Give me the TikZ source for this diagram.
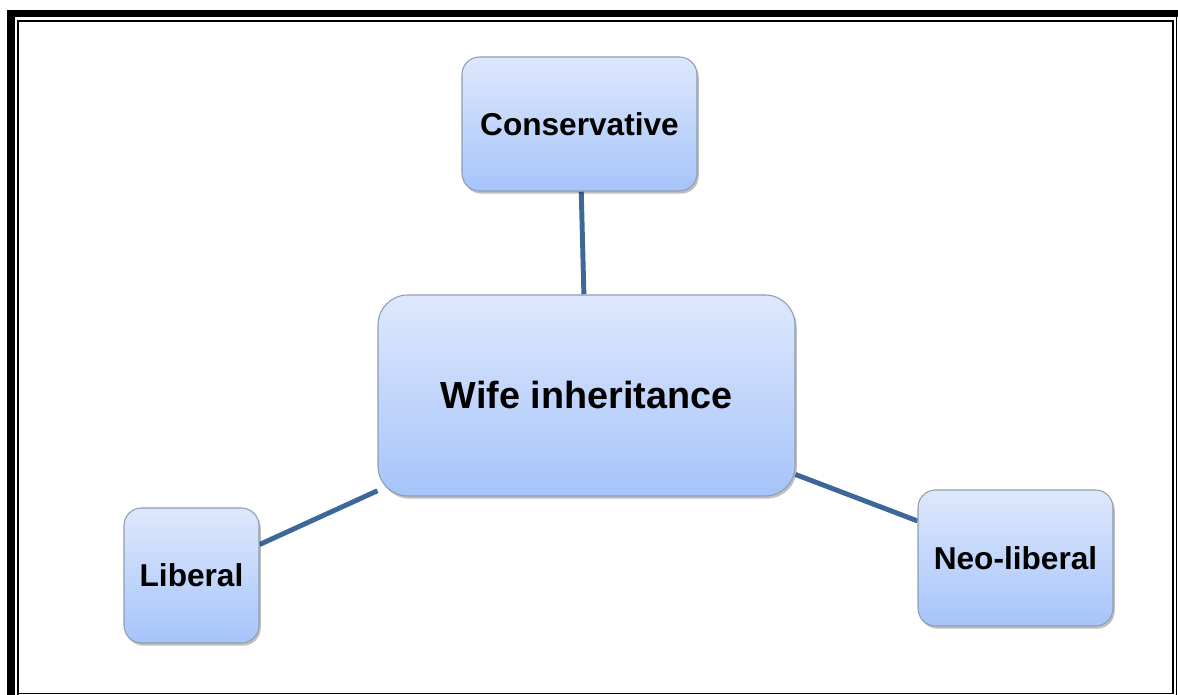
\documentclass[tikz,border=0pt]{standalone}
\usepackage{fontspec}
\setmainfont{Liberation Sans}
\usepackage{tikz}
\usetikzlibrary{shadows,backgrounds}
\definecolor{boxtop}{HTML}{DEE8FC}
\definecolor{boxbot}{HTML}{A6C4FA}
\definecolor{boxline}{HTML}{8E9DB3}
\definecolor{linkcol}{HTML}{3D6699}
\newcommand{\smalltxt}{\fontsize{18}{21}\selectfont\bfseries}
\newcommand{\bigtxt}{\fontsize{21.5}{25}\selectfont\bfseries}
\newcommand{\linkw}{2.8pt}

\begin{document}
\begin{tikzpicture}[x=0.02cm,y=-0.02cm]
                %\draw[help lines] (0,0) grid[step=50] (1178,695);
                \useasboundingbox (0,0) rectangle (1178,695);
                \tikzset{box/.style = {draw=boxline, line width=0.6pt, top color=boxtop, bottom color=boxbot,
                                rounded corners=10pt, inner sep=0pt,
                                drop shadow={shadow xshift=1pt, shadow yshift=-1.5pt, opacity=0.25, fill=black}},
                        link/.style = {draw=linkcol, line width=\linkw}}
                % frame
                \fill (7,10) rectangle (15,695);
                \fill (7,10) rectangle (1178,17);
                \draw[line width=1.1pt] (18,695) -- (18,21) -- (1173,21) -- (1173,693.5) -- (18,693.5);
                \draw[line width=1.1pt] (1176.5,17) -- (1176.5,695);
                % boxes
                \node[box, minimum width=235*0.02cm, minimum height=134*0.02cm] (cons) at (579.5,124) {\smalltxt Conservative};
                \node[box, rounded corners=17pt, minimum width=417*0.02cm, minimum height=201*0.02cm] (wife) at (586.5,395.5) {\bigtxt Wife inheritance};
                \node[box, minimum width=135*0.02cm, minimum height=135*0.02cm] (lib) at (191.5,575.5) {\smalltxt Liberal};
                \node[box, minimum width=195*0.02cm, minimum height=136*0.02cm] (neo) at (1015.5,558) {\smalltxt Neo-liberal};
                \begin{pgfonlayer}{background}
                \draw[link] (cons) -- (wife);
                \draw[link] (wife) -- (lib);
                \draw[link] (wife) -- (neo);
                \end{pgfonlayer}
        \end{tikzpicture}
\end{document}
